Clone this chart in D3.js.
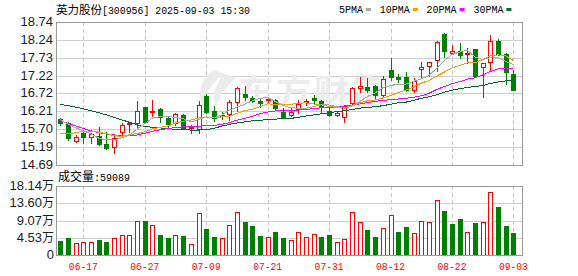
<!DOCTYPE html>
<html>
<head>
<meta charset="utf-8">
<script src="https://cdn.jsdelivr.net/npm/d3@7/dist/d3.min.js"></script>
<style>
body{margin:0;background:#fff;}
svg{display:block;}
</style>
</head>
<body>
<svg width="578" height="276"></svg>
<script>

var dates = ['06-12','06-13','06-16','06-17','06-18','06-19','06-20','06-23','06-24','06-25',
 '06-26','06-27','06-30','07-01','07-02','07-03','07-04','07-07','07-08','07-09',
 '07-10','07-11','07-14','07-15','07-16','07-17','07-18','07-21','07-22','07-23',
 '07-24','07-25','07-28','07-29','07-30','07-31','08-01','08-04','08-05','08-06',
 '08-07','08-08','08-11','08-12','08-13','08-14','08-15','08-18','08-19','08-20',
 '08-21','08-22','08-25','08-26','08-27','08-28','08-29','09-01','09-02','09-03'];

var open  = [15.98,15.87,15.38,15.61,15.47,15.51,15.29,15.21,15.63,15.84,
 15.89,16.32,16.20,16.29,16.03,15.87,16.11,15.74,15.72,16.64,
 16.22,16.12,16.13,16.48,16.70,16.58,16.51,16.52,16.53,16.20,
 16.11,16.27,16.49,16.60,16.50,16.23,16.10,16.06,16.44,16.88,
 16.91,16.93,16.67,17.38,17.17,17.17,16.80,17.40,17.48,17.65,
 18.40,17.85,17.91,17.83,17.97,17.46,17.60,18.19,17.83,17.27];
var high  = [16.03,15.90,15.54,15.66,15.61,15.76,15.63,15.57,15.87,15.92,
 16.51,16.34,16.53,16.31,16.08,16.15,16.13,15.82,16.51,16.70,
 16.36,16.18,16.53,16.91,16.94,16.65,16.55,16.57,16.55,16.30,
 16.31,16.53,16.56,16.67,16.53,16.34,16.20,16.39,16.91,17.19,
 17.14,16.96,17.21,17.71,17.27,17.31,17.14,17.60,17.62,18.21,
 18.44,18.09,18.14,18.00,17.97,17.57,18.37,18.26,17.85,17.38];
var low   = [15.82,15.41,15.35,15.32,15.32,15.26,15.15,15.04,15.57,15.62,
 15.76,15.89,16.08,15.92,15.76,15.82,15.70,15.59,15.61,16.15,
 15.94,16.00,15.96,16.23,16.52,16.47,16.34,16.44,16.24,16.01,
 16.08,16.17,16.39,16.44,16.15,16.08,16.08,15.92,16.42,16.77,
 16.77,16.55,16.62,17.10,17.05,16.79,16.77,17.19,17.21,17.36,
 17.76,17.83,17.71,17.57,17.21,16.63,17.36,17.81,16.98,16.81];
var close = [15.89,15.46,15.47,15.49,15.56,15.29,15.18,15.46,15.82,15.89,
 16.22,15.92,16.23,16.06,15.85,16.13,15.73,15.78,16.39,16.20,
 16.03,16.09,16.47,16.86,16.62,16.51,16.46,16.55,16.30,16.06,
 16.20,16.41,16.51,16.54,16.36,16.11,16.17,16.37,16.86,16.93,
 16.81,16.67,17.12,17.19,17.12,16.81,17.08,17.46,17.62,18.18,
 17.93,17.91,17.81,17.87,17.22,17.57,18.19,17.83,17.31,16.81];

// 成交量, 单位: 万
var volume = [3.66,4.45,3.05,3.40,3.40,3.92,3.49,4.36,5.14,5.14,
 8.81,8.89,7.76,5.23,4.45,5.14,4.97,2.79,11.16,6.80,
 4.71,4.36,7.76,11.42,8.63,7.59,4.97,4.62,6.02,4.45,
 3.92,6.02,4.62,5.41,4.62,5.14,3.31,4.10,11.42,8.55,
 6.45,4.62,6.98,10.64,6.02,7.33,5.67,8.81,8.55,14.56,
 11.51,8.11,9.42,5.93,8.37,8.55,16.66,12.56,7.59,5.9089];
// 1 = red (up), 0 = green (down)
var volUp = [0,0,1,1,1,0,0,1,1,1, 1,0,1,0,0,1,0,1,1,0, 0,1,1,1,0,0,0,1,0,0,
 1,1,1,1,0,0,1,1,1,1, 0,0,1,1,0,0,1,1,1,1, 0,0,0,1,0,1,1,0,0,0];
var lastVolume = "59089";

var ma5  = [15.97,15.85,15.74,15.66,15.57,15.45,15.40,15.40,15.46,15.53,
 15.71,15.86,16.02,16.06,16.06,16.04,16.00,15.91,15.98,16.05,
 16.03,16.10,16.24,16.33,16.41,16.51,16.58,16.60,16.49,16.38,
 16.31,16.30,16.30,16.34,16.40,16.39,16.34,16.31,16.37,16.49,
 16.63,16.73,16.88,16.94,16.98,16.98,17.06,17.13,17.22,17.43,
 17.65,17.82,17.89,17.94,17.75,17.68,17.73,17.74,17.62,17.54];
var ma10 = [15.57,15.58,15.60,15.65,15.65,15.62,15.58,15.52,15.50,15.55,
 15.58,15.63,15.71,15.76,15.79,15.88,15.93,15.96,16.02,16.05,
 16.03,16.05,16.07,16.15,16.23,16.27,16.34,16.42,16.41,16.40,
 16.41,16.44,16.45,16.42,16.39,16.35,16.32,16.30,16.36,16.45,
 16.51,16.53,16.59,16.66,16.74,16.81,16.90,17.01,17.08,17.21,
 17.32,17.44,17.51,17.58,17.59,17.67,17.78,17.81,17.78,17.65];
var ma20 = [15.95,15.87,15.80,15.72,15.66,15.61,15.57,15.54,15.52,15.52,
 15.54,15.59,15.64,15.69,15.72,15.75,15.77,15.78,15.79,15.80,
 15.81,15.84,15.89,15.96,16.01,16.07,16.14,16.19,16.22,16.22,
 16.22,16.25,16.26,16.29,16.31,16.31,16.33,16.36,16.38,16.42,
 16.46,16.49,16.52,16.54,16.56,16.58,16.61,16.65,16.72,16.83,
 16.91,16.99,17.05,17.12,17.16,17.24,17.34,17.41,17.43,17.43];
var ma30 = [16.41,16.37,16.33,16.28,16.23,16.17,16.11,16.04,15.97,15.90,
 15.83,15.78,15.76,15.74,15.72,15.70,15.69,15.68,15.68,15.69,
 15.73,15.79,15.84,15.88,15.91,15.94,15.96,15.97,15.99,16.00,
 16.01,16.04,16.08,16.11,16.14,16.17,16.20,16.23,16.26,16.30,
 16.32,16.34,16.37,16.41,16.45,16.47,16.52,16.58,16.62,16.68,
 16.75,16.81,16.85,16.89,16.91,16.94,17.00,17.04,17.07,17.10];

var priceTicks = [18.74,18.24,17.73,17.22,16.72,16.21,15.70,15.19,14.69];
var volTicks = [18.14,13.605,9.07,4.535,0];
var volTickLabels = ['18.14','13.60','9.07','4.53','0'];
var dateTicks = ['06-17','06-27','07-09','07-21','07-31','08-12','08-22','09-03'];

var maNames = ['5PMA','10PMA','20PMA','30PMA'];
var maColors = ['#a8a8a8','#f0a000','#ff00ff','#006a32'];

var RED = '#ff0000', GREEN = '#008000';
var latin = "'Liberation Mono', monospace";
var cjk = "'Noto Sans CJK SC', sans-serif";
var num = "'Liberation Sans', Arial, sans-serif";

var svg = d3.select("svg");
var left = 56, right = 522, pTop = 22, pBot = 165, vTop = 186, vBot = 255;

var x = d3.scaleLinear().domain([0, dates.length - 1]).range([60.3, 513.4]);
var y = d3.scaleLinear().domain([14.69, 18.74]).range([pBot, pTop]);
var yv = d3.scaleLinear().domain([0, 18.14]).range([vBot, vTop]);

function px(v){ return Math.round(v) + 0.5; }

// ---- grids ----
var grid = svg.append("g").attr("shape-rendering", "crispEdges");

grid.selectAll(".hp").data(priceTicks).enter().append("line")
    .attr("x1", left).attr("x2", right)
    .attr("y1", function(d){ return px(y(d)); })
    .attr("y2", function(d){ return px(y(d)); })
    .attr("stroke", "#cfcfcf");

grid.selectAll(".hv").data(volTicks).enter().append("line")
    .attr("x1", left).attr("x2", right)
    .attr("y1", function(d){ return px(yv(d)); })
    .attr("y2", function(d){ return px(yv(d)); })
    .attr("stroke", "#cfcfcf");

[[pTop, pBot], [vTop, vBot]].forEach(function(r){
  grid.selectAll(null).data(dateTicks).enter().append("line")
      .attr("x1", function(d){ return px(x(dates.indexOf(d))); })
      .attr("x2", function(d){ return px(x(dates.indexOf(d))); })
      .attr("y1", r[0]).attr("y2", r[1])
      .attr("stroke", "#c8c8c8")
      .attr("stroke-dasharray", "4,3");
});

// watermark
var wm = svg.append("g").attr("fill", "#ececec");
wm.append("path")
    .attr("d", "M214,70 C200,80 196,96 204,108 C204,96 210,84 222,76 C214,88 212,98 216,108 C220,94 228,84 236,78 C226,74 220,72 214,70 Z");
wm.append("text")
    .attr("x", 238).attr("y", 105)
    .style("font-family", cjk).style("font-size", "35px").style("font-weight", "bold")
    .attr("letter-spacing", "3")
    .text("东方财富");

// ---- candles ----
var cand = svg.append("g").attr("shape-rendering", "crispEdges");
var idx = d3.range(dates.length);

cand.selectAll(".wick").data(idx).enter().append("line")
    .attr("x1", function(i){ return px(x(i)); })
    .attr("x2", function(i){ return px(x(i)); })
    .attr("y1", function(i){ return Math.round(y(high[i])); })
    .attr("y2", function(i){ return Math.round(y(low[i])) + 1; })
    .attr("stroke", function(i){ return close[i] >= open[i] ? RED : GREEN; });

cand.selectAll(".body").data(idx).enter().append("rect")
    .attr("x", function(i){ var c = Math.round(x(i)); return close[i] >= open[i] ? c - 1.5 : c - 2; })
    .attr("y", function(i){
      var t = Math.round(y(Math.max(open[i], close[i])));
      return close[i] >= open[i] ? t + 0.5 : t;
    })
    .attr("width", function(i){ return close[i] >= open[i] ? 4 : 5; })
    .attr("height", function(i){
      var t = Math.round(y(Math.max(open[i], close[i]))),
          b = Math.round(y(Math.min(open[i], close[i])));
      return close[i] >= open[i] ? Math.max(1, b - t) : Math.max(1, b - t + 1);
    })
    .attr("fill", function(i){ return close[i] >= open[i] ? "#fff" : GREEN; })
    .attr("stroke", function(i){ return close[i] >= open[i] ? RED : "none"; });

// ---- moving averages ----
var line = d3.line()
    .x(function(d, i){ return x(i); })
    .y(function(d){ return y(d); });

[ma30, ma20, ma10, ma5].forEach(function(s, k){
  svg.append("path")
      .datum(s)
      .attr("d", line)
      .attr("fill", "none")
      .attr("stroke", maColors[3 - k])
      .attr("stroke-width", 1)
      .attr("shape-rendering", "crispEdges");
});

// ---- volume ----
var vol = svg.append("g").attr("shape-rendering", "crispEdges");
vol.selectAll("rect").data(idx).enter().append("rect")
    .attr("x", function(i){ var c = Math.round(x(i)); return volUp[i] ? c - 1.5 : c - 2; })
    .attr("y", function(i){ var t = Math.round(yv(volume[i])); return volUp[i] ? t + 0.5 : t; })
    .attr("width", function(i){ return volUp[i] ? 4 : 5; })
    .attr("height", function(i){ var t = Math.round(yv(volume[i])); return volUp[i] ? vBot - t - 0.5 : vBot - t; })
    .attr("fill", function(i){ return volUp[i] ? "#fff" : GREEN; })
    .attr("stroke", function(i){ return volUp[i] ? RED : "none"; });

// ---- frames ----
svg.append("rect").attr("x", left + 0.5).attr("y", pTop + 0.5)
    .attr("width", right - left).attr("height", pBot - pTop)
    .attr("fill", "none").attr("stroke", "#999").attr("shape-rendering", "crispEdges");
svg.append("rect").attr("x", left + 0.5).attr("y", vTop + 0.5)
    .attr("width", right - left).attr("height", vBot - vTop)
    .attr("fill", "none").attr("stroke", "#999").attr("shape-rendering", "crispEdges");

// ---- axis labels ----
svg.selectAll(".pl").data(priceTicks).enter().append("text")
    .attr("x", 53).attr("y", function(d){ return y(d) + 4; })
    .attr("text-anchor", "end")
    .style("font-family", num).style("font-size", "13px").style("fill", "#1c1c28")
    .text(function(d){ return d.toFixed(2); });

var vl = svg.selectAll(".vl").data(volTicks).enter().append("text")
    .attr("x", 54).attr("y", function(d){ return yv(d) + 4; })
    .attr("text-anchor", "end")
    .style("fill", "#1c1c28");
vl.append("tspan").style("font-family", num).style("font-size", "13px")
    .text(function(d, i){ return volTickLabels[i]; });
vl.append("tspan").style("font-family", cjk).style("font-size", "12px")
    .text(function(d){ return d > 0 ? "万" : ""; });

svg.selectAll(".xl").data(dateTicks).enter().append("text")
    .attr("x", function(d){ return x(dates.indexOf(d)); })
    .attr("y", 270)
    .attr("text-anchor", "middle")
    .attr("textLength", 29).attr("lengthAdjust", "spacingAndGlyphs")
    .style("font-family", latin).style("font-size", "11px").style("fill", RED)
    .text(function(d){ return d; });

// ---- header ----
var head = svg.append("text").attr("x", 56).attr("y", 13.5).style("fill", "#000");
head.append("tspan").style("font-family", cjk).style("font-size", "11.5px").text("英力股份");
head.append("tspan").style("font-family", latin).style("font-size", "11px")
    .attr("textLength", 148).attr("lengthAdjust", "spacingAndGlyphs")
    .text("[300956] 2025-09-03 15:30");

var lx = 339;
maNames.forEach(function(n, k){
  var w = n.length * 6;
  svg.append("text").attr("x", lx).attr("y", 12.5)
      .attr("textLength", w).attr("lengthAdjust", "spacingAndGlyphs")
      .style("font-family", latin).style("font-size", "11px").style("fill", "#000")
      .text(n);
  svg.append("rect").attr("x", lx + w + 3).attr("y", 8)
      .attr("width", 5).attr("height", 3)
      .attr("fill", maColors[k]);
  lx += w + 3 + 5 + 8.8;
});

var vh = svg.append("text").attr("x", 58).attr("y", 181).style("fill", "#000");
vh.append("tspan").style("font-family", cjk).style("font-size", "12px").text("成交量");
vh.append("tspan").style("font-family", latin).style("font-size", "11px")
    .attr("textLength", 36).attr("lengthAdjust", "spacingAndGlyphs")
    .text(":" + lastVolume);

</script>
</body>
</html>
